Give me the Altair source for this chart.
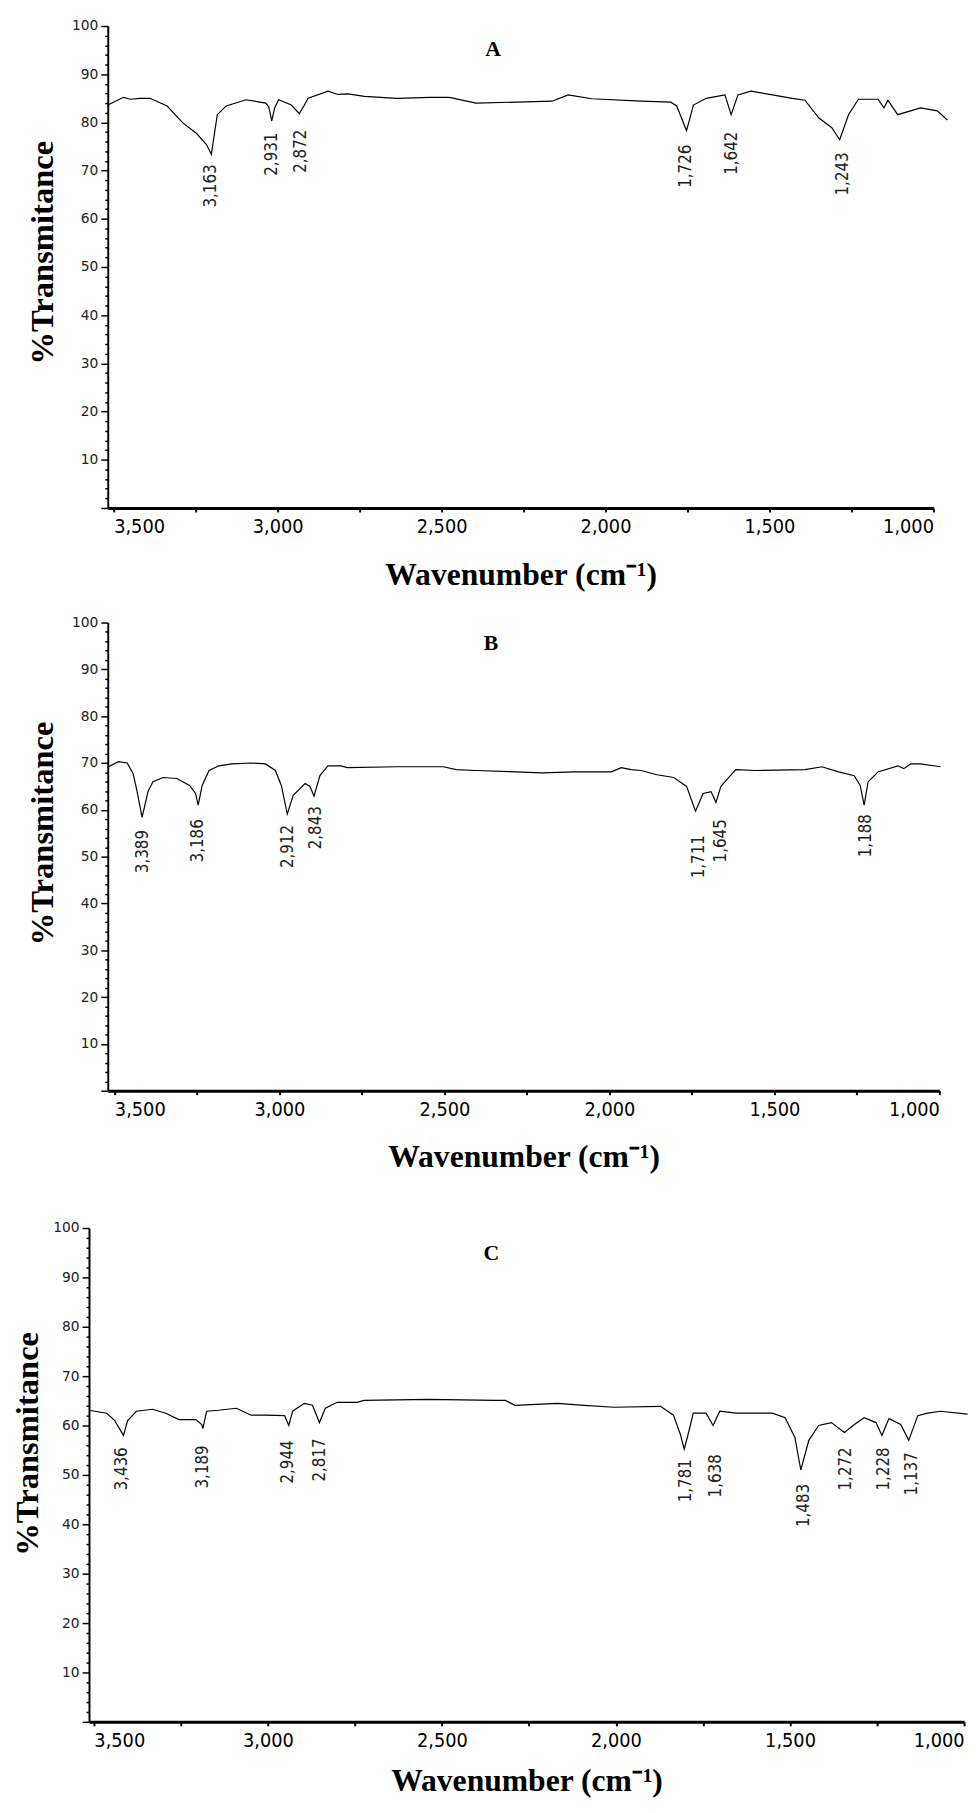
import altair as alt
import pandas as pd

# ---------------- Panel A ----------------
a_wn = [3518, 3470, 3449, 3419, 3389, 3337, 3289, 3247, 3217, 3202, 3184, 3157, 3096, 3036,
        3027, 3018, 3009, 2997, 2958, 2934, 2919, 2907, 2846, 2816, 2786, 2735, 2636, 2536,
        2476, 2395, 2163, 2114, 2042, 1892, 1801, 1783, 1753, 1732, 1693, 1636, 1617, 1596,
        1557, 1491, 1431, 1392, 1349, 1310, 1286, 1259, 1229, 1169, 1151, 1139, 1109, 1039,
        988, 958]
a_t = [83.6, 85.2, 84.8, 85.0, 85.0, 83.4, 79.9, 77.7, 75.4, 73.4, 81.6, 83.4, 84.7, 84.0,
       83.2, 80.3, 83.0, 84.7, 83.6, 81.8, 83.5, 85.0, 86.5, 85.8, 85.9, 85.4, 85.0, 85.2,
       85.2, 84.0, 84.4, 85.7, 84.9, 84.4, 84.2, 83.4, 78.3, 83.6, 85.0, 85.7, 81.6, 85.7,
       86.5, 85.7, 85.0, 84.6, 80.9, 78.9, 76.4, 81.6, 84.8, 84.8, 83.0, 84.6, 81.6, 83.0,
       82.4, 80.5]
a_labels = ["3,163", "2,931", "2,872", "1,726", "1,642", "1,243"]
a_label_wn = [3202, 3018, 2928, 1753, 1615, 1277]
a_label_t = [71.3, 77.9, 78.5, 75.4, 78.1, 73.8]

# ---------------- Panel B ----------------
b_wn = [3518, 3488, 3461, 3443, 3431, 3416, 3398, 3383, 3353, 3311, 3272, 3254, 3246, 3234,
        3213, 3183, 3144, 3084, 3042, 3012, 2994, 2976, 2958, 2922, 2907, 2895, 2877, 2853,
        2814, 2793, 2644, 2503, 2464, 2404, 2284, 2204, 2105, 1994, 1964, 1934, 1904, 1856,
        1805, 1766, 1739, 1716, 1692, 1677, 1662, 1617, 1557, 1407, 1356, 1305, 1258, 1240,
        1228, 1216, 1186, 1126, 1108, 1087, 1057, 997]
b_t = [69.2, 70.3, 70.0, 67.7, 63.9, 58.4, 63.9, 66.0, 66.9, 66.7, 65.2, 63.5, 61.0, 65.2,
       68.4, 69.4, 69.8, 70.0, 69.8, 68.4, 65.2, 59.1, 63.1, 65.6, 65.0, 62.9, 67.3, 69.4,
       69.4, 69.0, 69.2, 69.2, 68.6, 68.4, 68.1, 67.9, 68.1, 68.1, 69.0, 68.6, 68.4, 67.5,
       66.9, 65.0, 59.7, 63.5, 63.9, 61.6, 65.0, 68.6, 68.4, 68.6, 69.2, 68.1, 67.3, 65.2,
       61.0, 66.0, 68.1, 69.4, 68.8, 69.8, 69.8, 69.2]
b_labels = ["3,389", "3,186", "2,912", "2,843", "1,711", "1,645", "1,188"]
b_label_wn = [3413, 3246, 2973, 2889, 1728, 1662, 1222]
b_label_t = [55.7, 58.0, 56.8, 60.8, 54.6, 58.0, 59.1]

# ---------------- Panel C ----------------
c_wn = [3514, 3463, 3440, 3415, 3403, 3378, 3332, 3293, 3256, 3207, 3190, 3187, 3176, 3142,
        3091, 3048, 3008, 2952, 2940, 2929, 2895, 2872, 2852, 2835, 2801, 2744, 2724, 2537,
        2347, 2318, 2290, 2168, 2091, 2006, 1872, 1835, 1815, 1804, 1790, 1778, 1741, 1721,
        1702, 1656, 1551, 1514, 1486, 1469, 1446, 1418, 1381, 1344, 1315, 1287, 1253, 1236,
        1216, 1182, 1159, 1133, 1105, 1068, 990]
c_t = [63.1, 62.5, 61.0, 58.0, 61.0, 62.9, 63.3, 62.5, 61.2, 61.2, 60.2, 59.4, 62.9, 63.1,
       63.5, 62.1, 62.1, 62.0, 60.0, 62.9, 64.5, 64.1, 60.6, 63.5, 64.7, 64.7, 65.1, 65.3,
       65.1, 65.1, 64.1, 64.5, 64.1, 63.7, 63.9, 62.1, 58.2, 55.2, 59.0, 62.5, 62.5, 60.0,
       62.9, 62.5, 62.5, 61.6, 57.6, 51.0, 57.0, 60.0, 60.6, 58.6, 60.2, 61.6, 60.6, 58.0,
       61.4, 60.2, 57.0, 62.0, 62.5, 62.9, 62.3]
c_labels = ["3,436", "3,189", "2,944", "2,817", "1,781", "1,638", "1,483", "1,272", "1,228", "1,137"]
c_label_wn = [3418, 3185, 2943, 2849, 1798, 1713, 1460, 1338, 1230, 1148]
c_label_t = [55.6, 56.0, 57.0, 57.4, 53.2, 54.2, 48.2, 55.6, 55.6, 54.6]

letters = ["A", "B", "C"]
letter_wn = [2343, 2359, 2358]
letter_t = [95.3, 95.6, 95.0]

x_ticks = [3500, 3250, 3000, 2750, 2500, 2250, 2000, 1750, 1500, 1250, 1000]
y_ticks = list(range(0, 101, 2))

SERIF = "Liberation Serif"
NARROW = "Liberation Sans Narrow, Arial Narrow, DejaVu Sans Condensed, sans-serif"
XT = "Wavenumber (cm\u207b\u00b9)"


def panel(wn, t, labs, lab_wn, lab_t, letter, l_wn, l_t, xdomain, xrange, height, yoffset,
          xtitle, title_pad, ytitle_pad, ytitle_y, title_lh=None):
    line_df = pd.DataFrame({"wn": wn, "t": t})
    lab_df = pd.DataFrame({"wn": lab_wn, "t": lab_t, "label": labs})
    let_df = pd.DataFrame({"wn": [l_wn], "t": [l_t], "label": [letter]})

    xaxis_kw = dict(
        values=x_ticks,
        labelExpr="datum.value % 500 === 0 ? format(datum.value, ',') : ''",
        title=xtitle,
        titleFont=SERIF,
        titleFontWeight="bold",
        titleFontSize=32,
        titleColor="black",
        titlePadding=title_pad,
        labelFont=NARROW,
        labelFontSize=20,
        labelColor="black",
        labelFlush=12,
        labelPadding=5,
        tickSize=4,
        tickWidth=2,
        tickColor="black",
        domainColor="black",
        domainWidth=3,
        grid=False,
    )
    if title_lh is not None:
        xaxis_kw["titleLineHeight"] = title_lh

    x_enc = alt.X(
        "wn:Q",
        scale=alt.Scale(domain=xdomain, range=xrange, nice=False, zero=False),
        axis=alt.Axis(**xaxis_kw),
    )
    y_enc = alt.Y(
        "t:Q",
        scale=alt.Scale(domain=[0, 100], nice=False),
        axis=alt.Axis(
            values=y_ticks,
            labelExpr="(datum.value % 10 === 0 && datum.value > 0) ? datum.value : ''",
            title="%Transmitance",
            titleFont=SERIF,
            titleFontWeight="bold",
            titleFontSize=33,
            titleColor="black",
            titlePadding=ytitle_pad,
            titleY=ytitle_y,
            labelFont="DejaVu Sans",
            labelFontSize=14,
            labelColor="#222",
            labelPadding=3,
            tickSize={"condition": {"test": "datum.value % 10 === 0", "value": 7}, "value": 3},
            tickWidth=1.5,
            tickColor="black",
            domainColor="black",
            domainWidth=2,
            offset=yoffset,
            grid=False,
        ),
    )
    line = alt.Chart(line_df).mark_line(color="black", strokeWidth=1.2).encode(x=x_enc, y=y_enc)
    text = alt.Chart(lab_df).mark_text(
        angle=270, align="right", baseline="middle", font=NARROW, fontSize=17, color="#222"
    ).encode(x=x_enc, y=y_enc, text="label:N")
    let = alt.Chart(let_df).mark_text(
        font=SERIF, fontWeight="bold", fontSize=22, color="black"
    ).encode(x=x_enc, y=y_enc, text="label:N")
    return alt.layer(line, text, let).properties(width=887, height=height)


pa = panel(a_wn, a_t, a_labels, a_label_wn, a_label_t, letters[0], letter_wn[0], letter_t[0],
           [3518, 1000], [19, 855], 488, -19, XT, 23, 12, 229)
pb = panel(b_wn, b_t, b_labels, b_label_wn, b_label_t, letters[1], letter_wn[1], letter_t[1],
           [3520, 1000], [19, 861], 474, -19, [XT, " "], 23, 12, 213, 23)
pc = panel(c_wn, c_t, c_labels, c_label_wn, c_label_t, letters[2], letter_wn[2], letter_t[2],
           [3514, 1000], [0, 886], 500, 0, XT, 16, 8, 218)

chart = alt.vconcat(pa, pb, pc, spacing=26).properties(
    padding={"left": 4, "top": 0, "right": 0, "bottom": 0},
    background="white",
).configure_view(strokeWidth=0, stroke=None)

chart.save("out.html", embed_options={"renderer": "svg", "actions": False})
